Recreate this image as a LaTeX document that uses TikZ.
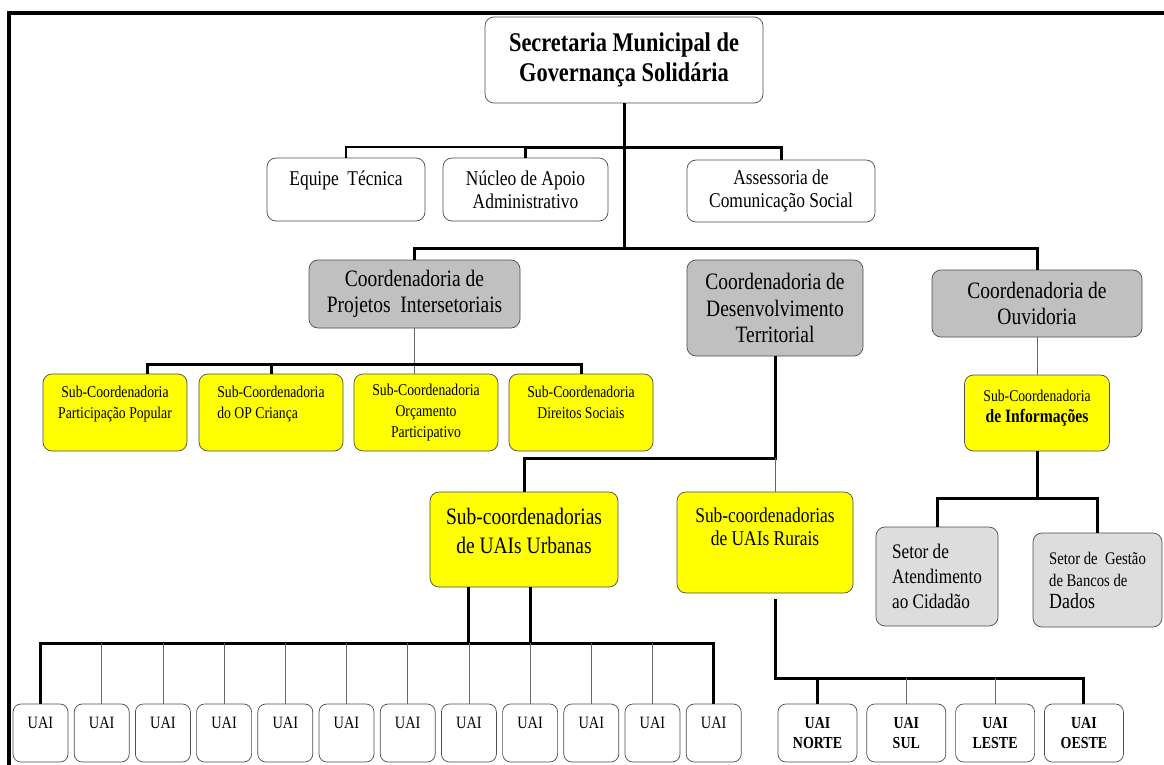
\documentclass[tikz,border=0pt]{standalone}
\usepackage{fontspec}
\setmainfont{Liberation Serif}[FakeStretch=0.83]
\definecolor{cinza}{RGB}{192,192,192}
\definecolor{cinzaclaro}{RGB}{221,221,221}
\definecolor{amarelo}{RGB}{255,255,0}
\tikzset{
  caixa/.style={draw=black!70, line width=0.7pt, rounded corners=9pt, fill=white, align=center, inner sep=1pt},
  staff/.style={caixa, font=\fontsize{21}{23}\selectfont},
  coord/.style={caixa, fill=cinza, font=\fontsize{23.5}{26.5}\selectfont},
  sub/.style={caixa, fill=amarelo, minimum width=144, minimum height=77, font=\fontsize{16.5}{21}\selectfont},
  setor/.style={caixa, fill=cinzaclaro, align=left},
  uai/.style={caixa, minimum width=55, minimum height=58, rounded corners=8pt, font=\fontsize{17.3}{20}\selectfont},
  heavy/.style={line width=3pt},
  medium/.style={line width=2pt},
  fine/.style={line width=0.6pt, black!60}
}
\begin{document}
\begin{tikzpicture}[x=1pt, y=-1pt]
  \useasboundingbox (0,0) rectangle (1164,765);
  \draw[line width=4pt] (9,765) -- (9,13) -- (1164,13);

  % top
  \node[caixa, minimum width=278, minimum height=86, font=\bfseries\fontsize{27}{30}\selectfont] (sec) at (624,60) {Secretaria Municipal de\\Governança Solidária};
  \node[staff, minimum width=158, minimum height=63] (eq) at (346,189.5) {Equipe~ Técnica\\\mbox{}};
  \node[staff, minimum width=165, minimum height=63] (nuc) at (525.5,189.5) {Núcleo de Apoio\\Administrativo};
  \node[staff, minimum width=188, minimum height=62] (ass) at (781,191) {Assessoria de\\Comunicação Social};

  % coordenadorias
  \node[coord, minimum width=211, minimum height=68] (proj) at (414.5,294) {Coordenadoria de\\Projetos~ Intersetoriais};
  \node[coord, minimum width=176, minimum height=96] (dev) at (775,308) {Coordenadoria de\\Desenvolvimento\\Territorial};
  \node[coord, minimum width=210, minimum height=67] (ouv) at (1037,303.5) {Coordenadoria de\\Ouvidoria};

  \node[sub] (s1) at (115,412.5) {Sub-Coordenadoria\\Participação Popular\\\mbox{}};
  \node[sub, align=left] (s2) at (271,412.5) {Sub-Coordenadoria\\do OP Criança\\\mbox{}};
  \node[sub] (s3) at (426,412.5) {Sub-Coordenadoria\\Orçamento\\Participativo};
  \node[sub] (s4) at (581,412.5) {Sub-Coordenadoria\\Direitos Sociais\\\mbox{}};
  \node[sub, minimum width=145, minimum height=76] (info) at (1037,413) {Sub-Coordenadoria\\{\bfseries\fontsize{18.8}{24}\selectfont de Informações}\\[-8pt]\mbox{}};

  \node[sub, minimum width=188, minimum height=95, font=\fontsize{23.5}{29}\selectfont] (urb) at (524,539.5) {Sub-coordenadorias\\de UAIs Urbanas\\[-12pt]\mbox{}};
  \node[sub, minimum width=176, minimum height=101, font=\fontsize{21}{23}\selectfont] (rur) at (765,542.5) {Sub-coordenadorias\\de UAIs Rurais\\[9pt]\mbox{}};

  \node[setor, minimum width=122, minimum height=99, font=\fontsize{20.7}{25}\selectfont] (atd) at (937,576.5) {Setor de\\Atendimento\\ao Cidadão};
  \node[setor, minimum width=129, minimum height=94, font=\fontsize{17.7}{22}\selectfont] (ges) at (1097.5,580) {Setor de~ Gestão\\de Bancos de\\{\fontsize{21.6}{22}\selectfont Dados}};

  % UAIs
  \foreach \i in {1,...,12}
    \node[uai] (u\i) at ({40.5+61.2*(\i-1)},733) {UAI\\\mbox{}};
  \foreach \n [count=\i] in {NORTE,SUL,LESTE,OESTE}
    \node[uai, minimum width=79, font=\bfseries\fontsize{16.8}{20}\selectfont] (r\i) at ({817.5+88.8*(\i-1)},733) {UAI\\\n};

  % levels of the buses
  \coordinate (bStaff) at (0,147);
  \coordinate (bCoord) at (0,248);
  \coordinate (bSub) at (0,364);
  \coordinate (bDev) at (0,458);
  \coordinate (bInfo) at (0,498);
  \coordinate (bUrb) at (0,643);
  \coordinate (bRur) at (0,678);
  \coordinate (s1c) at ([xshift=32pt]s1.north);
  \coordinate (rurb) at (dev.south |- rur.south);

  \draw[heavy] (sec.south) -- (sec.south |- bCoord);
  \draw[medium] (eq.north) -- (eq.north |- bStaff) -- (nuc.north |- bStaff);
  \draw[heavy] (nuc.north) -- (nuc.north |- bStaff) -- (ass.north |- bStaff) -- (ass.north);
  \draw[heavy] (proj.north) -- (proj.north |- bCoord) -- (ouv.north |- bCoord) -- (ouv.north);

  \draw[fine] (proj.south) -- (proj.south |- s3.north);
  \draw[heavy] (s1c) -- (s1c |- bSub) -- (s4.north |- bSub) -- (s4.north);
  \draw[heavy] (s2.north) -- (s2.north |- bSub);

  \draw[heavy] (dev.south) -- (dev.south |- bDev) -- (urb.north |- bDev) -- (urb.north);
  \draw[fine] (dev.south |- bDev) -- (dev.south |- rur.north);
  \draw[heavy] ([yshift=-6pt]rurb) -- (rurb |- bRur) -- (r4.north |- bRur) -- (r4.north);
  \draw[heavy] (r1.north) -- (r1.north |- bRur);
  \foreach \i in {2,3}
    \draw[fine] (r\i.north) -- (r\i.north |- bRur);

  \draw[heavy] (urb.south -| u8.north) -- (u8.north |- bUrb);
  \draw[heavy] (urb.south -| u9.north) -- (u9.north |- bUrb);
  \draw[heavy] (u1.north) -- (u1.north |- bUrb) -- (u12.north |- bUrb) -- (u12.north);
  \foreach \i in {2,...,11}
    \draw[fine] (u\i.north) -- (u\i.north |- bUrb);

  \draw[fine] (ouv.south) -- (info.north);
  \draw[heavy] (info.south) -- (info.south |- bInfo) -- (atd.north |- bInfo) -- (atd.north);
  \draw[heavy] (info.south |- bInfo) -- (ges.north |- bInfo) -- (ges.north);
\end{tikzpicture}
\end{document}
